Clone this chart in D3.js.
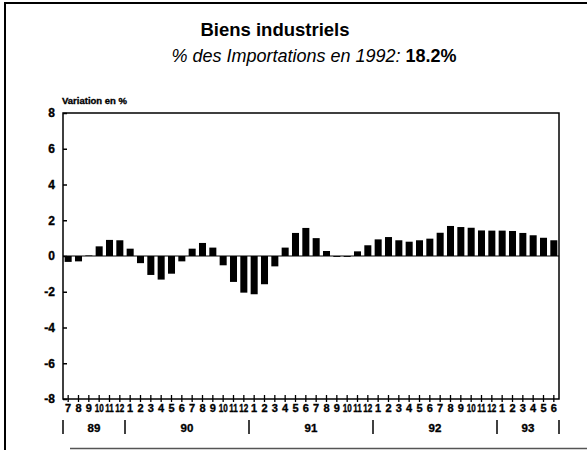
<!DOCTYPE html>
<html>
<head>
<meta charset="utf-8">
<script src="https://cdn.jsdelivr.net/npm/d3@7"></script>
<style>
  body { margin: 0; background: #fff; }
  svg { display: block; font-family: "Liberation Sans", Arial, sans-serif; }
  .heavy { stroke: #000; stroke-width: 0.35px; }
</style>
</head>
<body>
<div id="chart"></div>
<script>
// months from July 1989 to June 1993
var months = ["7","8","9","10","11","12",
    "1","2","3","4","5","6","7","8","9","10","11","12",
    "1","2","3","4","5","6","7","8","9","10","11","12",
    "1","2","3","4","5","6","7","8","9","10","11","12",
    "1","2","3","4","5","6"];
var years = ["89", "90", "91", "92", "93"];
var yearMonths = [6, 12, 12, 12, 6];
var values = [-0.33, -0.3, 0.03, 0.54, 0.9, 0.88,
    0.41, -0.4, -1.06, -1.32, -0.99, -0.3, 0.41, 0.73, 0.47, -0.52, -1.45, -2.05,
    -2.14, -1.58, -0.58, 0.47, 1.29, 1.57, 1.0, 0.28, -0.05, -0.05, 0.26, 0.6,
    0.93, 1.06, 0.88, 0.8, 0.88, 0.97, 1.3, 1.68, 1.62, 1.58, 1.43, 1.42,
    1.42, 1.4, 1.29, 1.16, 1.02, 0.88];
var yTicks = [-8, -6, -4, -2, 0, 2, 4, 6, 8];

var W = 587, H = 450;
var margin = {top: 113, right: 28, bottom: 51, left: 63},
    width = W - margin.left - margin.right,
    height = H - margin.top - margin.bottom;

var svg0 = d3.select("#chart").append("svg")
    .attr("width", W)
    .attr("height", H);

// outer frame (scanned page border)
svg0.append("line").attr("x1", 5).attr("x2", 5).attr("y1", 2).attr("y2", 450)
    .attr("stroke", "#000").attr("stroke-width", 2);
svg0.append("line").attr("x1", 5).attr("x2", 587).attr("y1", 3).attr("y2", 3)
    .attr("stroke", "#000").attr("stroke-width", 2);
svg0.append("line").attr("x1", 70).attr("x2", 587).attr("y1", 448.5).attr("y2", 448.5)
    .attr("stroke", "#555").attr("stroke-width", 1.5);

// titles
svg0.append("text")
    .attr("x", 275).attr("y", 36)
    .attr("text-anchor", "middle")
    .style("font-size", "18.5px")
    .style("font-weight", "bold")
    .text("Biens industriels");

var sub = svg0.append("text")
    .attr("x", 314).attr("y", 62)
    .attr("text-anchor", "middle")
    .style("font-size", "18px");
sub.append("tspan").style("font-style", "italic").text("% des Importations en 1992: ");
sub.append("tspan").style("font-weight", "bold").text("18.2%");

svg0.append("text")
    .attr("class", "heavy")
    .attr("x", 62).attr("y", 104)
    .style("font-size", "9.5px")
    .style("font-weight", "bold")
    .text("Variation en %");

var svg = svg0.append("g")
    .attr("transform", "translate(" + margin.left + "," + margin.top + ")");

var x = d3.scaleBand()
    .domain(d3.range(values.length))
    .range([0, width])
    .paddingInner(0.32)
    .paddingOuter(0.16);

var y = d3.scaleLinear()
    .domain([-8, 8])
    .range([height, 0]);

var step = x.step();
function center(i) { return x(i) + x.bandwidth() / 2; }

// plot box
svg.append("rect")
    .attr("width", width).attr("height", height)
    .attr("fill", "none").attr("stroke", "#000").attr("stroke-width", 1.5);

// y axis ticks and labels
svg.append("g")
    .style("font-size", "12px")
    .style("font-weight", "bold")
    .style("font-family", "inherit")
    .call(d3.axisLeft(y).tickValues(yTicks).tickSize(-4).tickPadding(8)
        .tickFormat(function(d) { return d < 0 ? "-" + Math.abs(d) : d; }))
    .call(function(g) { g.select(".domain").remove(); })
    .call(function(g) { g.selectAll(".tick line").attr("stroke-width", 1.5); })
    .call(function(g) { g.selectAll(".tick text").attr("class", "heavy"); });

// zero line
svg.append("line")
    .attr("x1", 0).attr("x2", width)
    .attr("y1", y(0)).attr("y2", y(0))
    .attr("stroke", "#000").attr("stroke-width", 1);

// bars
svg.selectAll(".bar")
    .data(values)
    .enter()
    .append("rect")
        .attr("class", "bar")
        .attr("x", function(d, i) { return x(i); })
        .attr("y", function(d) { return y(Math.max(0, d)); })
        .attr("width", x.bandwidth())
        .attr("height", function(d) { return Math.abs(y(d) - y(0)); })
        .attr("fill", "#000");

// month ticks crossing the bottom axis
svg.selectAll(".mtick")
    .data(months)
    .enter()
    .append("line")
        .attr("x1", function(d, i) { return center(i); })
        .attr("x2", function(d, i) { return center(i); })
        .attr("y1", height - 4).attr("y2", height + 3)
        .attr("stroke", "#000").attr("stroke-width", 1.3);

// month labels (two-digit ones squeezed sideways as in the print)
svg.selectAll(".mlab")
    .data(months)
    .enter()
    .append("g")
        .attr("transform", function(d, i) { return "translate(" + center(i) + "," + (height + 13) + ")"; })
    .append("text")
        .attr("class", "heavy")
        .attr("text-anchor", "middle")
        .attr("transform", function(d) { return d.length > 1 ? "scale(0.74,1)" : null; })
        .style("font-size", "11px")
        .style("font-weight", "bold")
        .text(function(d) { return d; });

// year separators and labels
var starts = [0];
yearMonths.forEach(function(n, i) { starts.push(starts[i] + n); });

svg.selectAll(".ysep")
    .data(starts)
    .enter()
    .append("line")
        .attr("x1", function(d) { return d === values.length ? width : x(d) - (step - x.bandwidth()) / 2; })
        .attr("x2", function(d) { return d === values.length ? width : x(d) - (step - x.bandwidth()) / 2; })
        .attr("y1", height + 21).attr("y2", height + 35)
        .attr("stroke", "#000").attr("stroke-width", 1.5);

svg.selectAll(".ylab")
    .data(years)
    .enter()
    .append("text")
        .attr("class", "heavy")
        .attr("x", function(d, i) { return (starts[i] + yearMonths[i] / 2) * step; })
        .attr("y", height + 33)
        .attr("text-anchor", "middle")
        .style("font-size", "11.5px")
        .style("font-weight", "bold")
        .text(function(d) { return d; });
</script>
</body>
</html>
